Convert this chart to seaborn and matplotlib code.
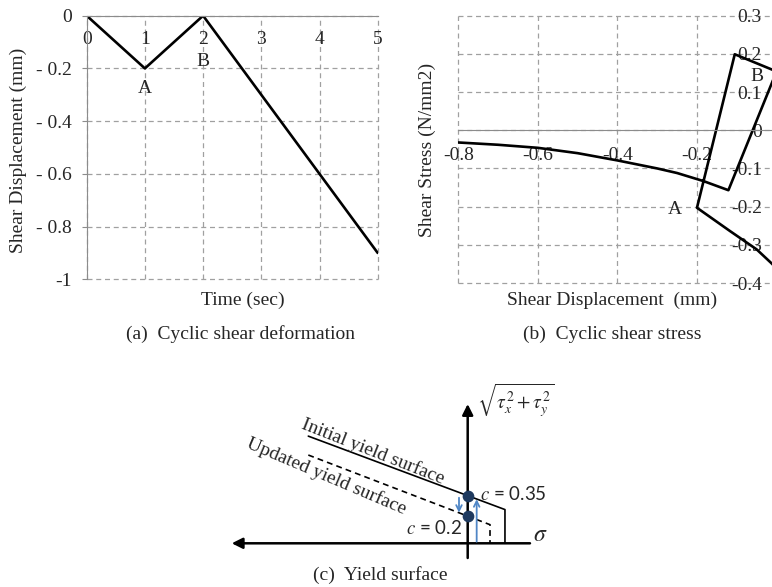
import matplotlib
matplotlib.use("Agg")
import matplotlib.pyplot as plt
import seaborn as sns
import pandas as pd

# ---------------- data ----------------
# (a) cyclic shear deformation
time_sec = [0, 1, 2, 5]
disp_mm = [0, -0.2, 0, -0.9]
a_xticks = [0, 1, 2, 3, 4, 5]
a_xlabels = ["0", "1", "2", "3", "4", "5"]
a_yticks = [0, -0.2, -0.4, -0.6, -0.8, -1.0]
a_ylabels = ["0", "- 0.2", "- 0.4", "- 0.6", "- 0.8", "-1"]

# (b) cyclic shear stress (path in loading order)
b_disp = [0.01, -0.011, -0.05, -0.117, -0.2, -0.105, 0.0, -0.121, -0.184,
          -0.25, -0.3, -0.4, -0.5, -0.6, -0.7, -0.8]
b_stress = [-0.375, -0.35, -0.312, -0.264, -0.203, 0.199, 0.154, -0.157, -0.133,
            -0.112, -0.100, -0.079, -0.060, -0.046, -0.038, -0.032]
b_xticks = [-0.8, -0.6, -0.4, -0.2, 0.0, 0.2]
b_xlabels = ["-0.8", "-0.6", "-0.4", "-0.2", "", ""]
b_yticks = [0.3, 0.2, 0.1, 0.0, -0.1, -0.2, -0.3, -0.4]
b_ylabels = ["0.3", "0.2", "0.1", "0", "-0.1", "-0.2", "-0.3", "-0.4"]

# (c) yield surface schematic
c_values = [0.35, 0.2]
c_labels = ["$c$ = 0.35", "$c$ = 0.2"]
initial_x = [-1.172, 0.274, 0.274]
initial_y = [0.788, 0.248, 0.0]
updated_x = [-1.172, 0.164, 0.164]
updated_y = [0.649, 0.137, 0.0]

# ---------------- style ----------------
sns.set_style("white")
plt.rcParams["font.family"] = ["Liberation Serif", "DejaVu Serif"]
plt.rcParams["mathtext.fontset"] = "stix"

W, H = 772, 587
fig = plt.figure(figsize=(W / 100, H / 100), dpi=100)


def fx(px):
    return px / W


def fy(py):
    return 1 - py / H


GRID = "#a0a0a0"
AXC = "#8c8c8c"
FS = 14

# ---------------- (a) ----------------
axa = fig.add_axes([fx(86.7), fy(279.3), fx(377.7) - fx(86.7), fy(15.7) - fy(279.3)])
sns.lineplot(x=time_sec, y=disp_mm, ax=axa, color="black", lw=1.9,
             sort=False, estimator=None)
axa.set_xlim(0, 5)
axa.set_ylim(-1, 0)
axa.set_xticks(a_xticks)
axa.set_xticklabels(a_xlabels)
axa.set_yticks(a_yticks)
axa.set_yticklabels(a_ylabels)
for s in ["right", "top"]:
    axa.spines[s].set_visible(False)
axa.spines["bottom"].set_position(("data", 0))
axa.spines["bottom"].set_color(AXC)
axa.spines["left"].set_color(AXC)
axa.grid(True, color=GRID, ls=(0, (4, 3)), lw=0.9)
axa.tick_params(axis="x", length=0, pad=11, labelsize=FS)
axa.tick_params(axis="y", length=3.6, color=AXC, pad=7, labelsize=FS, left=True)
axa.set_xlabel("")
axa.set_ylabel("")
axa.text(1, -0.275, "A", ha="center", va="center", fontsize=FS)
axa.text(2, -0.175, "B", ha="center", va="center", fontsize=FS)
axa.set_facecolor("none")
for gl in axa.get_xgridlines() + axa.get_ygridlines():
    gl.set_clip_on(False)

# ---------------- (b) ----------------
px_per_unit_x = 397.8
bx0 = 458.3
axb = fig.add_axes([fx(bx0), fy(283.0), 1.0 * px_per_unit_x / W, fy(15.7) - fy(283.0)])
sns.lineplot(x=b_disp, y=b_stress, ax=axb, color="black", lw=1.9,
             sort=False, estimator=None)
axb.set_xlim(-0.8, 0.2)
axb.set_ylim(-0.4, 0.3)
axb.set_xticks(b_xticks)
axb.set_xticklabels(b_xlabels)
axb.set_yticks(b_yticks)
axb.set_yticklabels(b_ylabels)
for s in ["right", "top"]:
    axb.spines[s].set_visible(False)
axb.spines["bottom"].set_position(("data", 0))
axb.spines["left"].set_position(("data", 0))
axb.spines["bottom"].set_color(AXC)
axb.spines["left"].set_color(AXC)
axb.grid(True, color=GRID, ls=(0, (4, 3)), lw=0.9)
axb.tick_params(axis="x", length=0, pad=12, labelsize=FS)
axb.tick_params(axis="y", length=3.6, color=AXC, pad=7, labelsize=FS, left=True)
axb.set_xlabel("")
axb.set_ylabel("")
axb.text(-0.255, -0.208, "A", ha="center", va="center", fontsize=FS)
axb.text(-0.05, 0.14, "B", ha="center", va="center", fontsize=FS)
axb.set_facecolor("none")
for gl in axb.get_xgridlines() + axb.get_ygridlines():
    gl.set_clip_on(False)

# axis titles and captions for (a) and (b)
fig.text(fx(18), fy(150), "Shear Displacement (mm)", rotation=90,
         ha="center", va="center", fontsize=FS)
fig.text(fx(243), fy(300), "Time (sec)", ha="center", va="center", fontsize=FS)
fig.text(fx(240), fy(334), "(a)  Cyclic shear deformation", ha="center", va="center", fontsize=FS)

fig.text(fx(427), fy(150), "Shear Stress (N/mm2)", rotation=90,
         ha="center", va="center", fontsize=FS)
fig.text(fx(612), fy(300), "Shear Displacement  (mm)", ha="center", va="center", fontsize=FS)
fig.text(fx(612), fy(334), "(b)  Cyclic shear stress", ha="center", va="center", fontsize=FS)

# ---------------- (c) ----------------
scale = 136.0
ox, oy = 467.7, 543.3
top_px = 360
axc = fig.add_axes([0, fy(H), 1, fy(top_px) - fy(H)])
axc.set_xlim(-ox / scale, (W - ox) / scale)
axc.set_ylim((oy - H) / scale, (oy - top_px) / scale)
axc.axis("off")
axc.set_facecolor("none")

# coordinate axes with arrow heads
axc.annotate("", xy=(-1.735, 0), xytext=(0.458, 0),
             arrowprops=dict(arrowstyle="-|>", lw=1.8, color="black",
                             mutation_scale=16, shrinkA=0, shrinkB=0))
axc.annotate("", xy=(0, 1.024), xytext=(0, -0.108),
             arrowprops=dict(arrowstyle="-|>", lw=1.8, color="black",
                             mutation_scale=16, shrinkA=0, shrinkB=0))

sns.lineplot(x=initial_x, y=initial_y, ax=axc, color="black", lw=1.2,
             sort=False, estimator=None)
axc.plot(updated_x, updated_y, color="black", lw=1.2, ls=(0, (3.5, 2.5)))

# blue arrows
axc.annotate("", xy=(-0.064, 0.225), xytext=(-0.064, 0.335),
             arrowprops=dict(arrowstyle="->", lw=1.3, color="#4f86c6",
                             mutation_scale=10, shrinkA=0, shrinkB=0))
axc.annotate("", xy=(0.066, 0.324), xytext=(0.066, 0.012),
             arrowprops=dict(arrowstyle="->", lw=1.3, color="#4f86c6",
                             mutation_scale=10, shrinkA=0, shrinkB=0))

axc.scatter([0, 0], c_values, s=55, color="#1f3a5f", zorder=5)

axc.text(0.09, 0.362, c_labels[0], ha="left", va="center", fontsize=13.5,
         family="Lato", math_fontfamily="stix")
axc.text(-0.044, 0.11, c_labels[1], ha="right", va="center", fontsize=13.5,
         family="Lato", math_fontfamily="stix")
axc.text(0.532, 0.061, r"$\sigma$", ha="center", va="center", fontsize=17)
axc.text(0.066, 1.054, r"$\sqrt{\tau_x^2 + \tau_y^2}$", ha="left", va="center",
         fontsize=14)

axc.text(-0.696, 0.675, "Initial yield surface", rotation=-21.5,
         ha="center", va="center", fontsize=FS, rotation_mode="anchor")
axc.text(-1.04, 0.495, "Updated yield surface", rotation=-23,
         ha="center", va="center", fontsize=FS, rotation_mode="anchor")

fig.text(fx(380), fy(575), "(c)  Yield surface", ha="center", va="center", fontsize=FS)

fig.savefig("out.png", dpi=100)
